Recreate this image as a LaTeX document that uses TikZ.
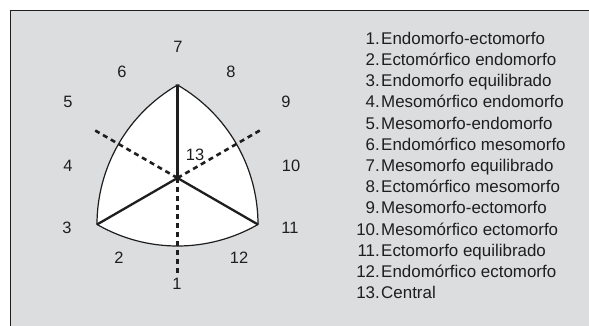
\documentclass[tikz,border=0pt]{standalone}
\usepackage{fontspec}
\setmainfont{Liberation Sans}
\definecolor{panel}{RGB}{220,221,223}
\definecolor{ink}{RGB}{30,30,30}
\begin{document}
\begin{tikzpicture}[x=1bp,y=1bp,
  lbl/.style={inner sep=0pt,text=ink,font=\fontsize{16.5}{19}\selectfont},
  num/.style={inner sep=0pt,anchor=base east,text=ink,font=\fontsize{17}{20}\selectfont},
  txt/.style={inner sep=0pt,anchor=base west,text=ink,font=\fontsize{17}{20}\selectfont},
  solidline/.style={draw=ink,line width=2.3bp},
  dashline/.style={draw=ink,line width=2.6bp,dash pattern=on 5bp off 4bp},
  outline/.style={draw=ink,line width=1.2bp}]
\useasboundingbox (0,0) rectangle (589,325);
\fill[white] (0,0) rectangle (589,325);
\draw[fill=panel,draw=ink,line width=1.5bp] (10.5,-5) -- (10.5,314.5) -- (600,314.5);
\fill[panel] (11.25,-5) rectangle (600,313.75);
% geometry
\coordinate (C) at (177.5,147);
\coordinate (T) at (177.5,240);
\coordinate (L) at (97,100.5);
\coordinate (R) at (258,100.5);
\coordinate (D1) at (177.5,52);
\coordinate (D2) at (95.2,194.5);
\coordinate (D3) at (259.8,194.5);
% Reuleaux triangle
\filldraw[fill=white,outline] (T) arc[start angle=60,end angle=0,radius=161]
  arc[start angle=-60,end angle=-120,radius=161]
  arc[start angle=180,end angle=120,radius=161] -- cycle;
\draw[solidline] (C) -- (T);
\draw[solidline] (C) -- (L);
\draw[solidline] (C) -- (R);
\draw[dashline] (C) -- (D1);
\draw[dashline] (C) -- (D2);
\draw[dashline] (C) -- (D3);
% labels
\node[lbl] (n7) at (178,278) {7};
\node[lbl] (n6) at (122,253) {6};
\node[lbl] (n8) at (231,253) {8};
\node[lbl] (n5) at (68,223) {5};
\node[lbl] (n9) at (286,223) {9};
\node[lbl] (n4) at (68,159) {4};
\node[lbl] (n10) at (291,159) {10};
\node[lbl] (n3) at (67,97) {3};
\node[lbl] (n11) at (290,97) {11};
\node[lbl] (n2) at (119,67) {2};
\node[lbl] (n12) at (239,67) {12};
\node[lbl] (n1) at (177,41) {1};
\node[lbl] (n13) at (195,170) {13};
% legend
\foreach \i/\t [count=\k] in {1/Endomorfo-ectomorfo,2/Ectomórfico endomorfo,3/Endomorfo equilibrado,4/Mesomórfico endomorfo,5/Mesomorfo-endomorfo,6/Endomórfico mesomorfo,7/Mesomorfo equilibrado,8/Ectomórfico mesomorfo,9/Mesomorfo-ectomorfo,10/Mesomórfico ectomorfo,11/Ectomorfo equilibrado,12/Endomórfico ectomorfo,13/Central}{
  \node[num] (k\k) at (380,{325-38.3-6-21.2*(\k-1)}) {\i.};
  \node[txt] (t\k) at (381,{325-38.3-6-21.2*(\k-1)}) {\t};
}
\end{tikzpicture}
\end{document}
